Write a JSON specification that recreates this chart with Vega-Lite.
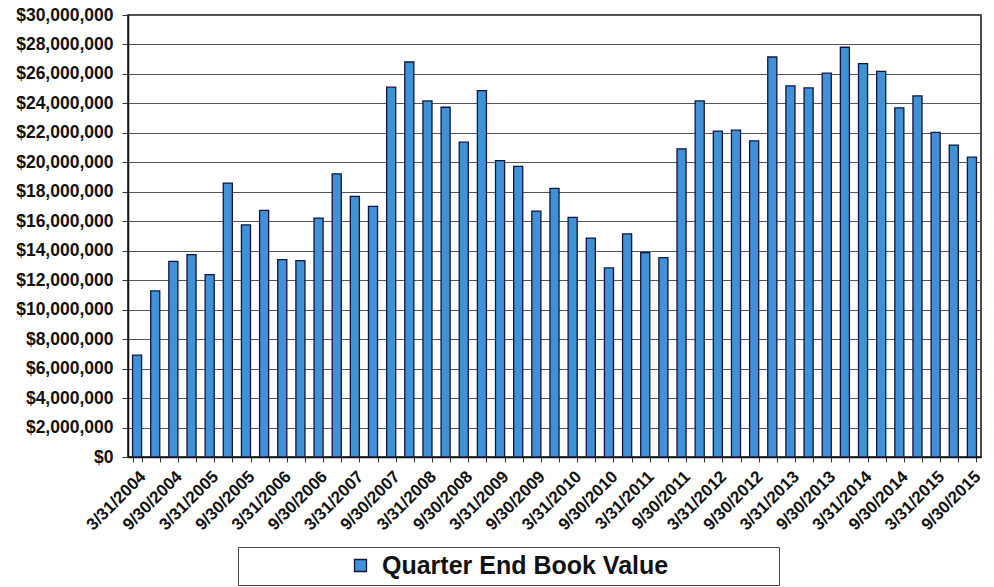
{
  "$schema": "https://vega.github.io/schema/vega-lite/v6.json",
  "width": 853,
  "height": 442,
  "autosize": {"type": "none"},
  "padding": {"left": 128, "top": 15, "right": 13, "bottom": 130},
  "background": "white",
  "data": {
    "values": [
      {"quarter": "3/31/2004", "value": 6910000, "series": "Quarter End Book Value"},
      {"quarter": "6/30/2004", "value": 11270000, "series": "Quarter End Book Value"},
      {"quarter": "9/30/2004", "value": 13280000, "series": "Quarter End Book Value"},
      {"quarter": "12/31/2004", "value": 13730000, "series": "Quarter End Book Value"},
      {"quarter": "3/31/2005", "value": 12380000, "series": "Quarter End Book Value"},
      {"quarter": "6/30/2005", "value": 18590000, "series": "Quarter End Book Value"},
      {"quarter": "9/30/2005", "value": 15750000, "series": "Quarter End Book Value"},
      {"quarter": "12/31/2005", "value": 16740000, "series": "Quarter End Book Value"},
      {"quarter": "3/31/2006", "value": 13400000, "series": "Quarter End Book Value"},
      {"quarter": "6/30/2006", "value": 13330000, "series": "Quarter End Book Value"},
      {"quarter": "9/30/2006", "value": 16220000, "series": "Quarter End Book Value"},
      {"quarter": "12/31/2006", "value": 19220000, "series": "Quarter End Book Value"},
      {"quarter": "3/31/2007", "value": 17690000, "series": "Quarter End Book Value"},
      {"quarter": "6/30/2007", "value": 17010000, "series": "Quarter End Book Value"},
      {"quarter": "9/30/2007", "value": 25100000, "series": "Quarter End Book Value"},
      {"quarter": "12/31/2007", "value": 26810000, "series": "Quarter End Book Value"},
      {"quarter": "3/31/2008", "value": 24170000, "series": "Quarter End Book Value"},
      {"quarter": "6/30/2008", "value": 23740000, "series": "Quarter End Book Value"},
      {"quarter": "9/30/2008", "value": 21370000, "series": "Quarter End Book Value"},
      {"quarter": "12/31/2008", "value": 24870000, "series": "Quarter End Book Value"},
      {"quarter": "3/31/2009", "value": 20110000, "series": "Quarter End Book Value"},
      {"quarter": "6/30/2009", "value": 19720000, "series": "Quarter End Book Value"},
      {"quarter": "9/30/2009", "value": 16690000, "series": "Quarter End Book Value"},
      {"quarter": "12/31/2009", "value": 18230000, "series": "Quarter End Book Value"},
      {"quarter": "3/31/2010", "value": 16270000, "series": "Quarter End Book Value"},
      {"quarter": "6/30/2010", "value": 14860000, "series": "Quarter End Book Value"},
      {"quarter": "9/30/2010", "value": 12830000, "series": "Quarter End Book Value"},
      {"quarter": "12/31/2010", "value": 15140000, "series": "Quarter End Book Value"},
      {"quarter": "3/31/2011", "value": 13870000, "series": "Quarter End Book Value"},
      {"quarter": "6/30/2011", "value": 13530000, "series": "Quarter End Book Value"},
      {"quarter": "9/30/2011", "value": 20920000, "series": "Quarter End Book Value"},
      {"quarter": "12/31/2011", "value": 24170000, "series": "Quarter End Book Value"},
      {"quarter": "3/31/2012", "value": 22120000, "series": "Quarter End Book Value"},
      {"quarter": "6/30/2012", "value": 22180000, "series": "Quarter End Book Value"},
      {"quarter": "9/30/2012", "value": 21460000, "series": "Quarter End Book Value"},
      {"quarter": "12/31/2012", "value": 27150000, "series": "Quarter End Book Value"},
      {"quarter": "3/31/2013", "value": 25190000, "series": "Quarter End Book Value"},
      {"quarter": "6/30/2013", "value": 25050000, "series": "Quarter End Book Value"},
      {"quarter": "9/30/2013", "value": 26050000, "series": "Quarter End Book Value"},
      {"quarter": "12/31/2013", "value": 27810000, "series": "Quarter End Book Value"},
      {"quarter": "3/31/2014", "value": 26700000, "series": "Quarter End Book Value"},
      {"quarter": "6/30/2014", "value": 26180000, "series": "Quarter End Book Value"},
      {"quarter": "9/30/2014", "value": 23700000, "series": "Quarter End Book Value"},
      {"quarter": "12/31/2014", "value": 24510000, "series": "Quarter End Book Value"},
      {"quarter": "3/31/2015", "value": 22030000, "series": "Quarter End Book Value"},
      {"quarter": "6/30/2015", "value": 21170000, "series": "Quarter End Book Value"},
      {"quarter": "9/30/2015", "value": 20350000, "series": "Quarter End Book Value"}
    ]
  },
  "mark": {"type": "bar", "stroke": "#14143a", "strokeWidth": 1.3},
  "encoding": {
    "x": {
      "field": "quarter",
      "type": "nominal",
      "sort": null,
      "scale": {"paddingInner": 0.5, "paddingOuter": 0.25},
      "axis": {
        "title": null,
        "labelAngle": -45,
        "labelOverlap": false,
        "labelExpr": "indexof(datum.label, '3/') == 0 || indexof(datum.label, '9/') == 0 ? datum.label : ''",
        "labelFont": "Liberation Sans",
        "labelFontSize": 17,
        "labelFontWeight": "bold",
        "labelColor": "#111",
        "labelPadding": 6,
        "tickBand": "extent",
        "tickSize": 5,
        "tickColor": "#333",
        "domainColor": "#111",
        "domainWidth": 1.5,
        "grid": false
      }
    },
    "y": {
      "field": "value",
      "type": "quantitative",
      "scale": {"domain": [0, 30000000], "nice": false},
      "axis": {
        "title": null,
        "values": [0, 2000000, 4000000, 6000000, 8000000, 10000000, 12000000, 14000000, 16000000, 18000000, 20000000, 22000000, 24000000, 26000000, 28000000, 30000000],
        "format": "$,.0f",
        "labelFont": "Liberation Sans",
        "labelFontSize": 17.5,
        "labelFontWeight": "bold",
        "labelColor": "#111",
        "labelPadding": 9,
        "tickSize": 6,
        "tickColor": "#333",
        "domainColor": "#111",
        "domainWidth": 1.5,
        "gridColor": "#555",
        "gridWidth": 1.2
      }
    },
    "color": {
      "field": "series",
      "type": "nominal",
      "scale": {"range": ["#3f91d8"]},
      "legend": {
        "title": null,
        "orient": "none",
        "legendX": 110,
        "legendY": 532,
        "symbolType": "square",
        "symbolSize": 144,
        "symbolStrokeColor": "#14143a",
        "symbolStrokeWidth": 1.3,
        "symbolOffset": 104,
        "labelFont": "Liberation Sans",
        "labelFontSize": 25,
        "labelFontWeight": "bold",
        "labelColor": "#111",
        "labelOffset": 9,
        "labelLimit": 800,
        "labelExpr": "datum.label + '\u00a0\u00a0\u00a0\u00a0\u00a0\u00a0\u00a0\u00a0\u00a0\u00a0\u00a0\u00a0\u00a0\u00a0\u00a0\u200b'",
        "strokeColor": "#444",
        "padding": 6
      }
    }
  },
  "config": {
    "view": {"stroke": "#111", "strokeWidth": 1.5}
  }
}
